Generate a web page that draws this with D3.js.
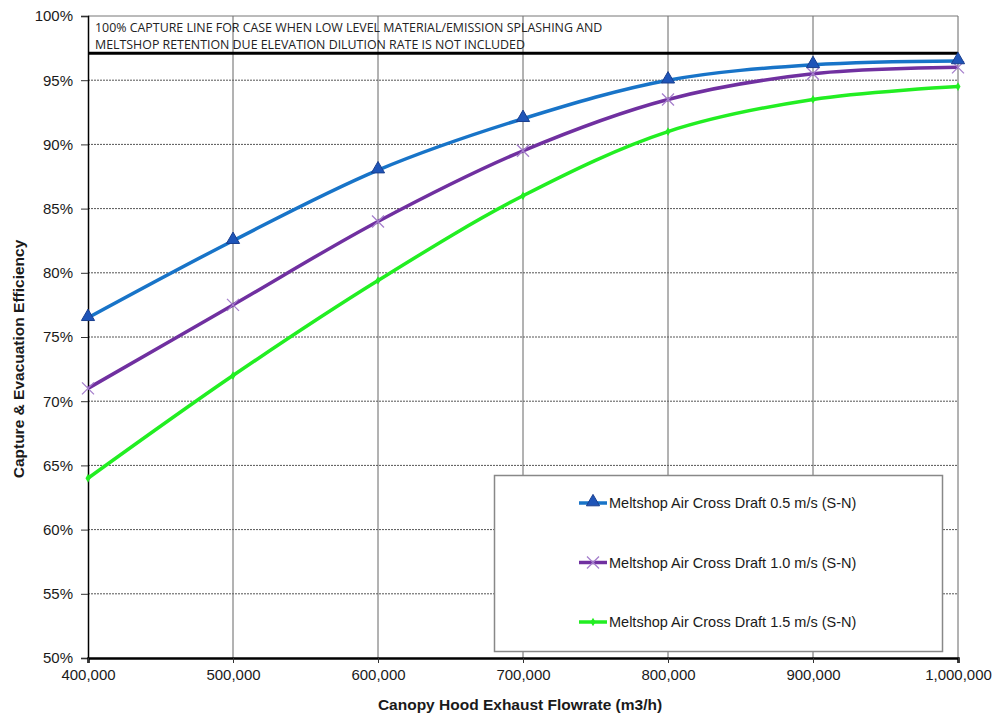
<!DOCTYPE html>
<html>
<head>
<meta charset="utf-8">
<script src="https://cdn.jsdelivr.net/npm/d3@7"></script>
<style>
  body { margin: 0; background: #fff; }
  svg { display: block; }
</style>
</head>
<body>
<div id="chart"></div>
<script>
const flowrates = [400000, 500000, 600000, 700000, 800000, 900000, 1000000];
const draft05 = [76.5, 82.5, 88.0, 92.0, 95.0, 96.2, 96.5];
const draft10 = [71.0, 77.5, 84.0, 89.5, 93.5, 95.5, 96.0];
const draft15 = [64.0, 72.0, 79.4, 86.0, 91.0, 93.5, 94.5];
const captureLine = 97.1;
const yTicks = [50, 55, 60, 65, 70, 75, 80, 85, 90, 95, 100];
const seriesNames = [
  "Meltshop Air Cross Draft 0.5 m/s (S-N)",
  "Meltshop Air Cross Draft 1.0 m/s (S-N)",
  "Meltshop Air Cross Draft 1.5 m/s (S-N)"
];
const noteLines = [
  "100% CAPTURE LINE FOR CASE WHEN LOW LEVEL MATERIAL/EMISSION SPLASHING AND",
  "MELTSHOP RETENTION DUE ELEVATION DILUTION RATE IS NOT INCLUDED"
];

const width = 993, height = 713;
const margin = {left: 88, right: 35, top: 16, bottom: 55};
const sans = "'Liberation Sans', Arial, sans-serif";

const svg = d3.select("#chart").append("svg")
  .attr("width", width)
  .attr("height", height);

const x = d3.scaleLinear().domain([400000, 1000000]).range([margin.left, width - margin.right]);
const y = d3.scaleLinear().domain([50, 100]).range([height - margin.bottom, margin.top]);

// grid lines
svg.append("g").selectAll("line")
  .data(yTicks.slice(1, -1))
  .join("line")
  .attr("x1", x(400000)).attr("x2", x(1000000))
  .attr("y1", d => y(d)).attr("y2", d => y(d))
  .attr("stroke", "#555")
  .attr("stroke-width", 1)
  .attr("stroke-dasharray", "2,1");

svg.append("g").selectAll("line")
  .data(flowrates.slice(1))
  .join("line")
  .attr("x1", d => x(d)).attr("x2", d => x(d))
  .attr("y1", y(100)).attr("y2", y(50))
  .attr("stroke", "#666")
  .attr("stroke-width", 1);

// top frame
svg.append("line")
  .attr("x1", x(400000)).attr("x2", x(1000000))
  .attr("y1", y(100)).attr("y2", y(100))
  .attr("stroke", "#777");

// note text
svg.append("g").selectAll("text")
  .data(noteLines)
  .join("text")
  .attr("x", x(400000) + 7)
  .attr("y", (d, i) => y(100) + 16 + i * 16.5)
  .attr("font-family", "'Open Sans', sans-serif")
  .attr("font-size", 12.4)
  .attr("fill", "#222")
  .text(d => d);

// capture line
svg.append("line")
  .attr("x1", x(400000)).attr("x2", x(1000000))
  .attr("y1", y(captureLine)).attr("y2", y(captureLine))
  .attr("stroke", "#000")
  .attr("stroke-width", 3);

// axes
const yAxis = d3.axisLeft(y).tickValues(yTicks).tickSize(7).tickFormat(d => d + "%");
const gy = svg.append("g").attr("transform", `translate(${x(400000)},0)`).call(yAxis);
gy.select(".domain").attr("stroke", "#000").attr("stroke-width", 1.5);
gy.selectAll(".tick line").attr("stroke", "#333");
gy.selectAll("text")
  .attr("font-family", sans)
  .attr("font-size", 15)
  .attr("fill", "#1a1a1a")
  .attr("x", -15);

const xAxis = d3.axisBottom(x).tickValues(flowrates).tickSize(5).tickFormat(d3.format(","));
const gx = svg.append("g").attr("transform", `translate(0,${y(50)})`).call(xAxis);
gx.select(".domain").attr("stroke", "#000").attr("stroke-width", 2.5);
gx.selectAll(".tick line").attr("stroke", "#333");
gx.selectAll("text")
  .attr("font-family", sans)
  .attr("font-size", 15)
  .attr("fill", "#1a1a1a")
  .attr("dy", "0.95em");

// axis titles
svg.append("text")
  .attr("x", (x(400000) + x(1000000)) / 2 - 3)
  .attr("y", 710)
  .attr("text-anchor", "middle")
  .attr("font-family", sans)
  .attr("font-size", 15.5)
  .attr("font-weight", "bold")
  .attr("fill", "#1a1a1a")
  .text("Canopy Hood Exhaust Flowrate (m3/h)");

svg.append("text")
  .attr("transform", `translate(24,${(y(50) + y(100)) / 2 + 22}) rotate(-90)`)
  .attr("text-anchor", "middle")
  .attr("font-family", sans)
  .attr("font-size", 15.5)
  .attr("font-weight", "bold")
  .attr("fill", "#1a1a1a")
  .text("Capture & Evacuation Efficiency");

// series
const series = [
  {name: seriesNames[0], values: draft05, color: "#1874c8", marker: "triangle"},
  {name: seriesNames[1], values: draft10, color: "#7030a0", marker: "cross"},
  {name: seriesNames[2], values: draft15, color: "#22ee22", marker: "diamond"}
];

const line = d3.line()
  .x((d, i) => x(flowrates[i]))
  .y(d => y(d))
  .curve(d3.curveCatmullRom.alpha(0.5));

function drawMarker(g, type, cx, cy, color) {
  if (type === "triangle") {
    g.append("path")
      .attr("d", d3.symbol(d3.symbolTriangle, 75)())
      .attr("transform", `translate(${cx},${cy - 1})`)
      .attr("fill", "#1f55b8")
      .attr("stroke", "#1a3f8f")
      .attr("stroke-width", 1);
  } else if (type === "cross") {
    g.append("path")
      .attr("d", "M-6,-6L6,6M-6,6L6,-6")
      .attr("transform", `translate(${cx},${cy})`)
      .attr("stroke", "#a57fcc")
      .attr("stroke-width", 1.3)
      .attr("fill", "none");
  } else {
    g.append("path")
      .attr("d", d3.symbol(d3.symbolDiamond, 22)())
      .attr("transform", `translate(${cx},${cy})`)
      .attr("fill", color);
  }
}

series.slice().reverse().forEach(s => {
  const g = svg.append("g");
  g.append("path")
    .attr("d", line(s.values))
    .attr("fill", "none")
    .attr("stroke", s.color)
    .attr("stroke-width", 3.5);
  s.values.forEach((v, i) => drawMarker(g, s.marker, x(flowrates[i]), y(v), s.color));
});

// legend
const lg = svg.append("g");
lg.append("rect")
  .attr("x", 494.5).attr("y", 475.5)
  .attr("width", 448).attr("height", 176)
  .attr("fill", "#fff")
  .attr("stroke", "#888")
  .attr("stroke-width", 1.5);

series.forEach((s, i) => {
  const ly = 503 + i * 59.5;
  lg.append("line")
    .attr("x1", 579).attr("x2", 607)
    .attr("y1", ly).attr("y2", ly)
    .attr("stroke", s.color)
    .attr("stroke-width", 3.5);
  drawMarker(lg, s.marker, 593, ly, s.color);
  lg.append("text")
    .attr("x", 609)
    .attr("y", ly + 5)
    .attr("font-family", sans)
    .attr("font-size", 14.5)
    .attr("fill", "#1a1a1a")
    .text(s.name);
});
</script>
</body>
</html>
